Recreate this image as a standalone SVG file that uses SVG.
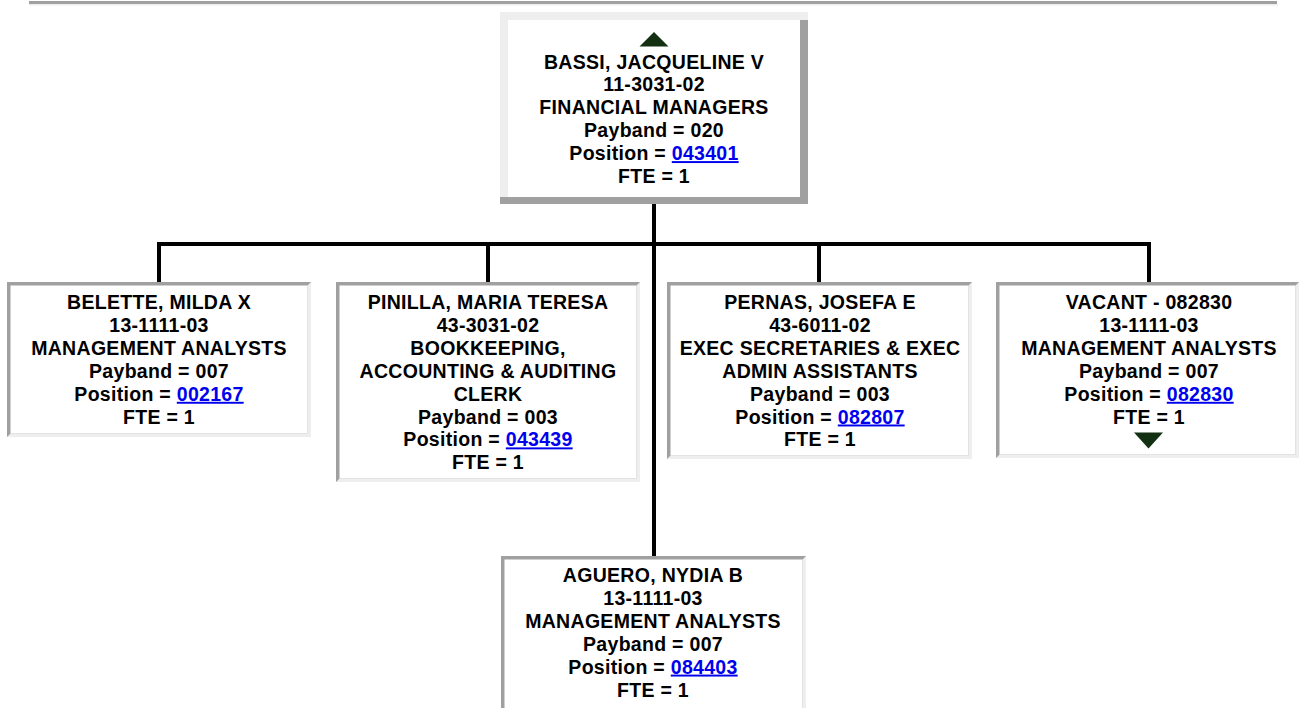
<svg xmlns="http://www.w3.org/2000/svg" width="1299" height="708" viewBox="0 0 1299 708">
<style>
text{font-family:"Liberation Sans",Arial,sans-serif;font-weight:bold;font-size:19.5px;letter-spacing:0.3px;fill:#000;text-anchor:middle}
.lnk{fill:#0000ee;text-decoration:underline}
.dk{fill:#a0a0a0}
.lt{fill:#eeeeee}
.in{fill:#ffffff}
.tri{fill:#133013}
.conn{stroke:#000;stroke-width:4;fill:none}
</style>
<rect x="0" y="0" width="1299" height="708" fill="#fff"/>
<rect class="dk" x="29" y="1" width="1248" height="3"/>
<rect class="lt" x="29" y="4" width="1249" height="1.5"/>

<g id="connectors">
<path class="conn" d="M654 204V556"/>
<path class="conn" d="M157 244H1151"/>
<path class="conn" d="M159 244V282M488 244V282M819 244V282M1149 244V282"/>
</g>

<g id="node-bassi">
<rect class="lt" x="500" y="12" width="308" height="192"/>
<rect class="dk" x="800" y="20" width="8" height="184"/>
<rect class="dk" x="500" y="197" width="308" height="7"/>
<rect class="in" x="508" y="20" width="292" height="177"/>
<polygon class="tri" points="654,32 668.5,46.5 639.5,46.5"/>
<text x="654" y="68.5">BASSI, JACQUELINE V</text>
<text x="654" y="91.4">11-3031-02</text>
<text x="654" y="114.3">FINANCIAL MANAGERS</text>
<text x="654" y="137.2">Payband = 020</text>
<text x="654" y="160.1">Position = <tspan class="lnk">043401</tspan></text>
<text x="654" y="183">FTE = 1</text>
</g>

<g id="node-belette">
<rect class="dk" x="7" y="282" width="304" height="155"/>
<polygon class="lt" points="311,282 311,437 7,437 10.5,433.5 307.5,433.5 307.5,285.5"/>
<rect class="in" x="10.5" y="285.5" width="297" height="148"/>
<text x="159" y="308.5">BELETTE, MILDA X</text>
<text x="159" y="331.6">13-1111-03</text>
<text x="159" y="354.6">MANAGEMENT ANALYSTS</text>
<text x="159" y="377.7">Payband = 007</text>
<text x="159" y="400.8">Position = <tspan class="lnk">002167</tspan></text>
<text x="159" y="423.9">FTE = 1</text>
</g>

<g id="node-pinilla">
<rect class="dk" x="336" y="282" width="304" height="200"/>
<polygon class="lt" points="640,282 640,482 336,482 339.5,478.5 636.5,478.5 636.5,285.5"/>
<rect class="in" x="339.5" y="285.5" width="297" height="193"/>
<text x="488" y="309">PINILLA, MARIA TERESA</text>
<text x="488" y="331.9">43-3031-02</text>
<text x="488" y="354.8">BOOKKEEPING,</text>
<text x="488" y="377.7">ACCOUNTING &amp; AUDITING</text>
<text x="488" y="400.6">CLERK</text>
<text x="488" y="423.5">Payband = 003</text>
<text x="488" y="446.4">Position = <tspan class="lnk">043439</tspan></text>
<text x="488" y="469.3">FTE = 1</text>
</g>

<g id="node-pernas">
<rect class="dk" x="667" y="282" width="305" height="177"/>
<polygon class="lt" points="972,282 972,459 667,459 670.5,455.5 968.5,455.5 968.5,285.5"/>
<rect class="in" x="670.5" y="285.5" width="298" height="170"/>
<text x="820" y="309">PERNAS, JOSEFA E</text>
<text x="820" y="331.9">43-6011-02</text>
<text x="820" y="354.8">EXEC SECRETARIES &amp; EXEC</text>
<text x="820" y="377.7">ADMIN ASSISTANTS</text>
<text x="820" y="400.6">Payband = 003</text>
<text x="820" y="423.5">Position = <tspan class="lnk">082807</tspan></text>
<text x="820" y="446.4">FTE = 1</text>
</g>

<g id="node-vacant">
<rect class="dk" x="996" y="282" width="303" height="176"/>
<polygon class="lt" points="1299,282 1299,458 996,458 999.5,454.5 1295.5,454.5 1295.5,285.5"/>
<rect class="in" x="999.5" y="285.5" width="296" height="169"/>
<text x="1149" y="308.5">VACANT - 082830</text>
<text x="1149" y="331.6">13-1111-03</text>
<text x="1149" y="354.6">MANAGEMENT ANALYSTS</text>
<text x="1149" y="377.7">Payband = 007</text>
<text x="1149" y="400.8">Position = <tspan class="lnk">082830</tspan></text>
<text x="1149" y="423.9">FTE = 1</text>
<polygon class="tri" points="1134,432.5 1163,432.5 1148.5,448.5"/>
</g>

<g id="node-aguero">
<rect class="dk" x="501" y="556" width="305" height="156"/>
<polygon class="lt" points="806,556 806,712 501,712 504.5,708.5 802.5,708.5 802.5,559.5"/>
<rect class="in" x="504.5" y="559.5" width="298" height="149"/>
<text x="653" y="582">AGUERO, NYDIA B</text>
<text x="653" y="604.9">13-1111-03</text>
<text x="653" y="627.8">MANAGEMENT ANALYSTS</text>
<text x="653" y="650.7">Payband = 007</text>
<text x="653" y="673.6">Position = <tspan class="lnk">084403</tspan></text>
<text x="653" y="696.5">FTE = 1</text>
</g>
</svg>
